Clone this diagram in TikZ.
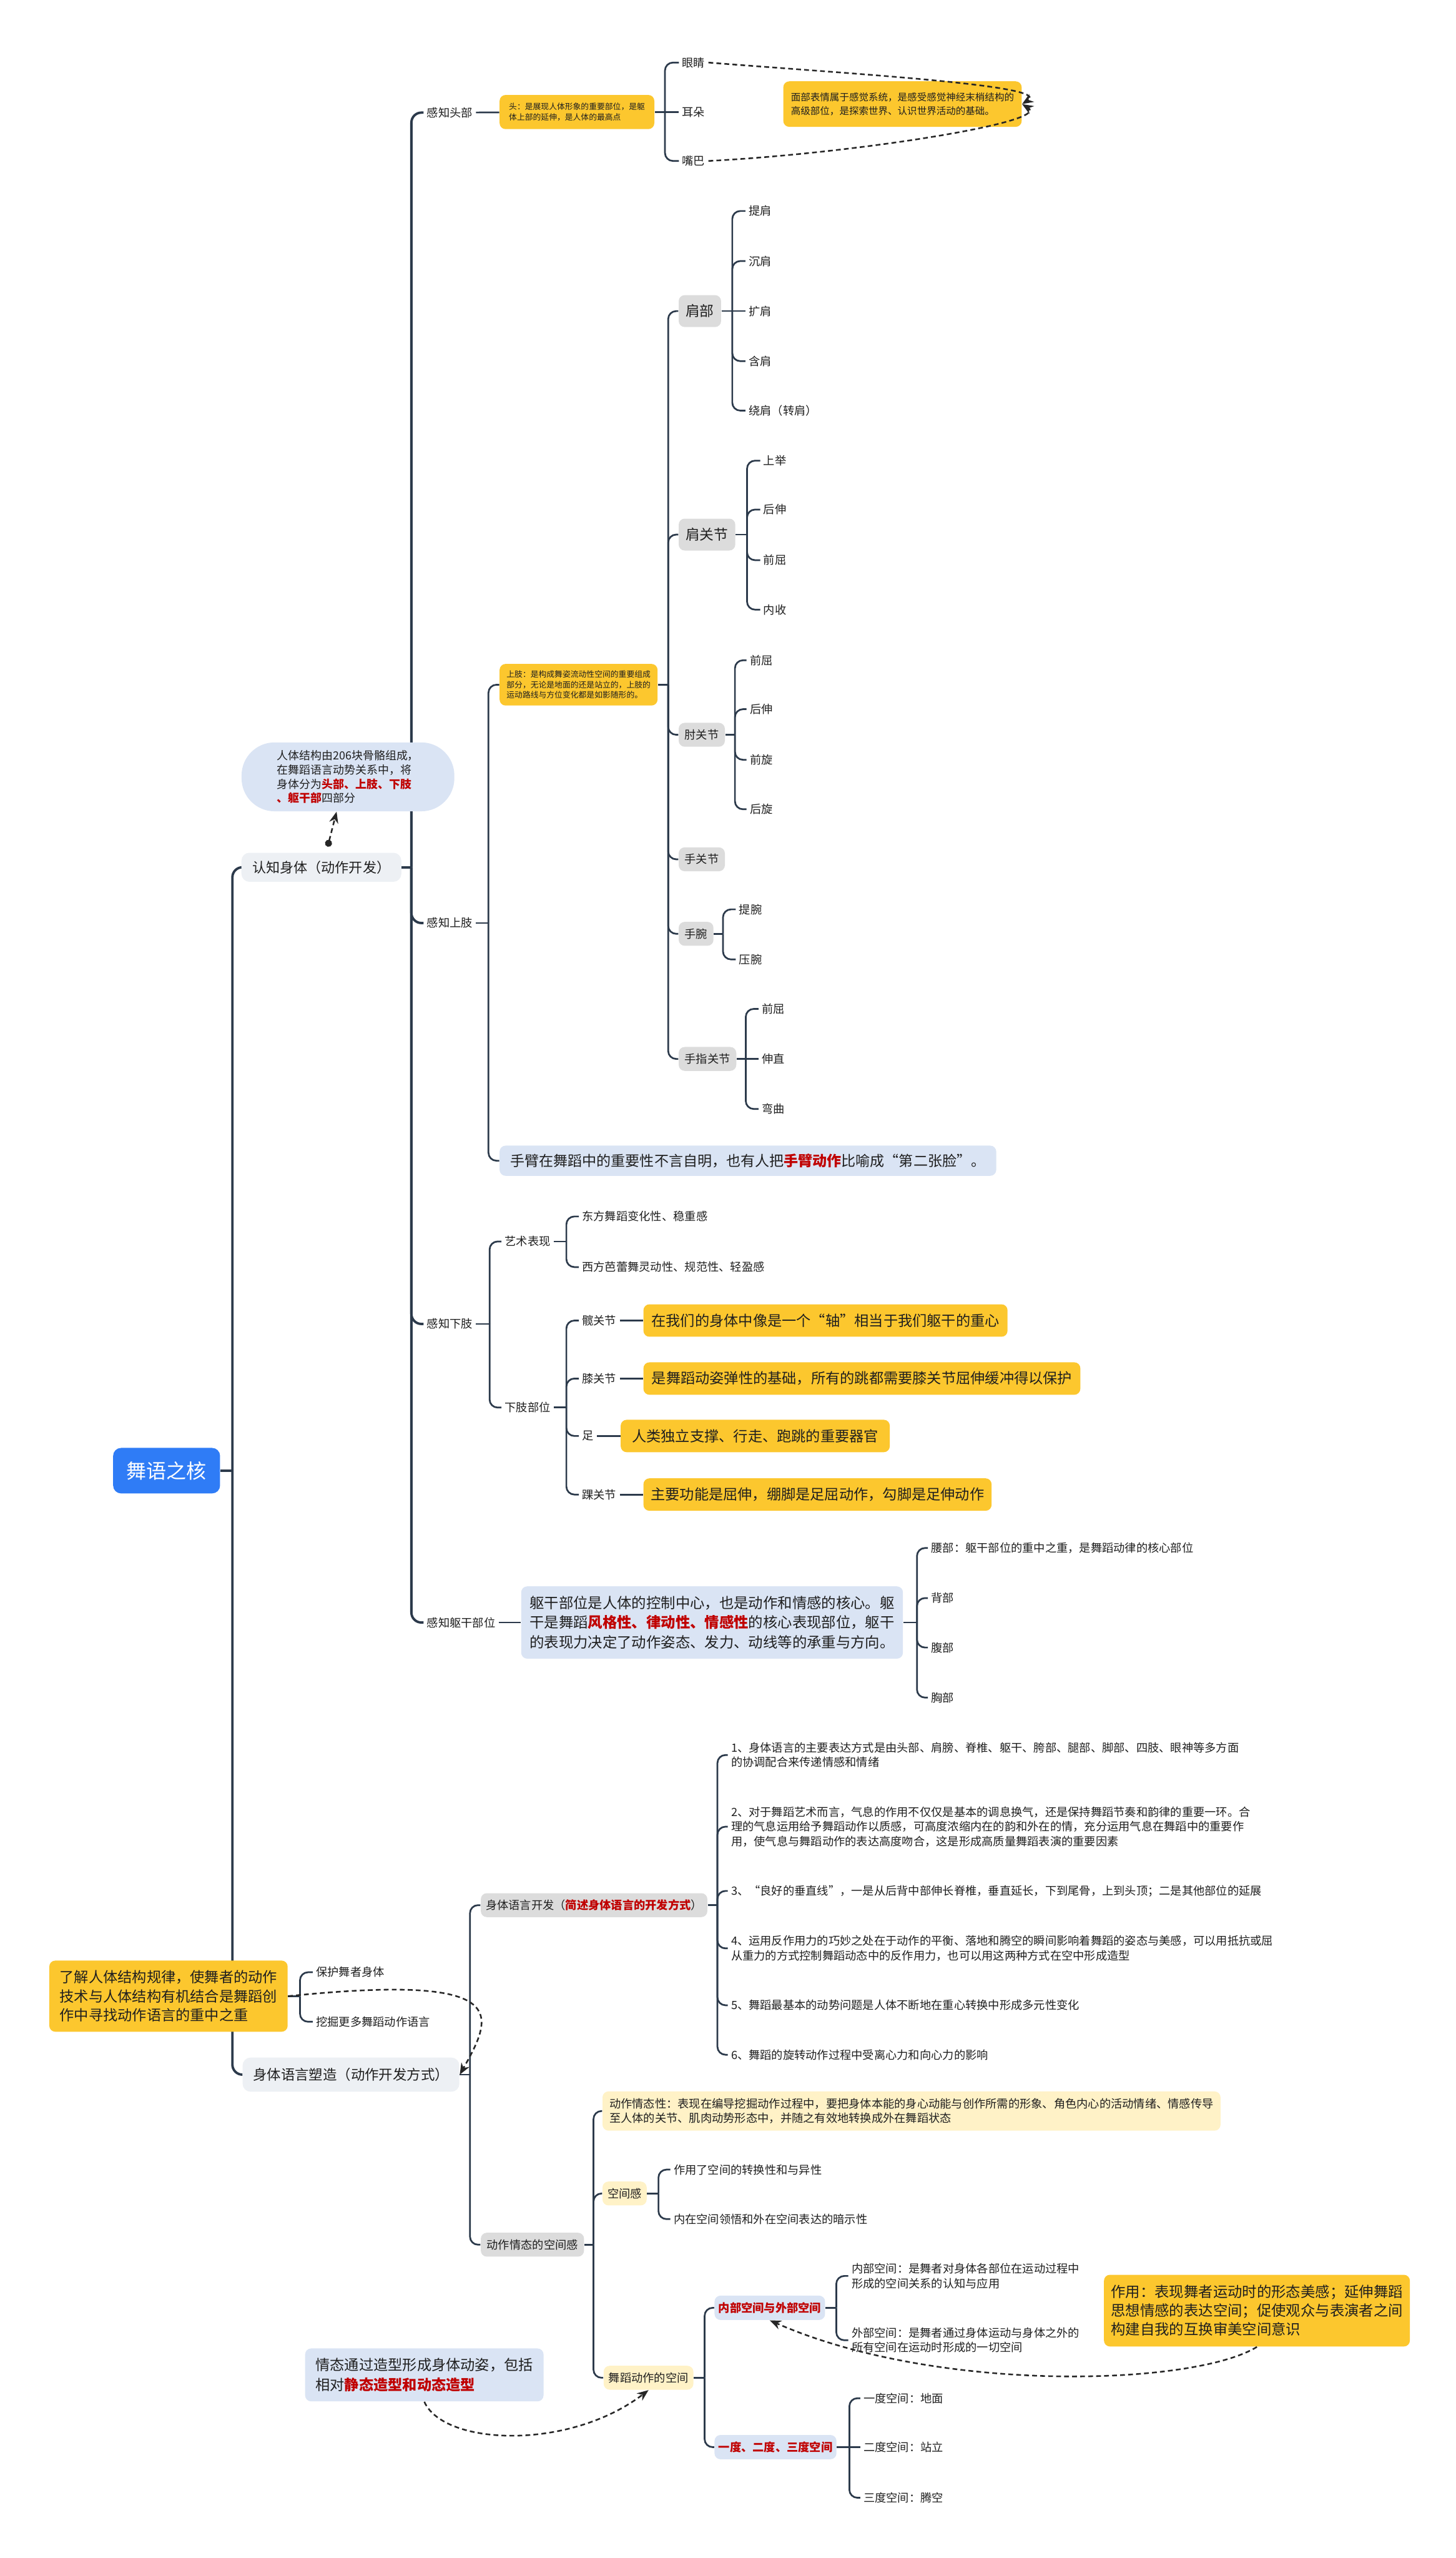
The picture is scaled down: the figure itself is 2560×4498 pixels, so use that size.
\documentclass[tikz,border=0pt]{standalone}
\usepackage{fontspec}
\setmainfont{Noto Sans CJK SC}
\usepackage{tikz}
\usetikzlibrary{arrows.meta, positioning, backgrounds, calc}

\definecolor{edge}{HTML}{2C3A4B}
\definecolor{ink}{HTML}{1F1F1F}
\definecolor{rootblue}{HTML}{2F7CF6}
\definecolor{notey}{HTML}{FCC72E}
\definecolor{noteb}{HTML}{DAE4F4}
\definecolor{notely}{HTML}{FFF2C7}
\definecolor{boxg}{HTML}{DCDCDC}
\definecolor{topicg}{HTML}{EDF0F4}
\definecolor{hot}{HTML}{C00000}
\newcommand{\redb}[1]{\textcolor{hot}{\bfseries #1}}

\begin{document}
\begin{tikzpicture}[
    x=0.01cm, y=-0.01cm,
    txt/.style={anchor=west, inner sep=1.5pt, text=ink, font=\fontsize{5.7pt}{7.3pt}\selectfont},
    gbox/.style={txt, fill=boxg, rounded corners=3pt, inner xsep=3pt, minimum height=0.42cm},
    gboxbig/.style={gbox, font=\fontsize{7.1pt}{9pt}\selectfont, minimum height=0.56cm, inner xsep=3.5pt},
    topic/.style={anchor=west, fill=topicg, rounded corners=4pt, text=ink, inner xsep=3.5pt, font=\fontsize{6.9pt}{8.5pt}\selectfont},
    ynote/.style={anchor=west, fill=notey, rounded corners=3pt, text=ink, align=left, inner xsep=3.5pt},
    bnote/.style={ynote, fill=noteb},
    lynote/.style={ynote, fill=notely, font=\fontsize{5.7pt}{7.3pt}\selectfont},
    rootbox/.style={fill=rootblue, text=white, rounded corners=4pt, minimum width=1.88cm, minimum height=0.8cm, font=\fontsize{10pt}{12pt}\selectfont},
    mainlink/.style={draw=edge, line width=1.2pt, rounded corners=5pt},
    link/.style={draw=edge, line width=0.85pt, rounded corners=4pt},
    rel/.style={draw=black!85, line width=0.8pt, dash pattern=on 2.4pt off 1.6pt, -{Stealth[length=2mm, width=1.6mm]}},
]
\useasboundingbox (0,0) rectangle (2560,4498);

\node[rootbox] (root) at (293,2586) {舞语之核};
\node[topic, minimum width=2.81cm, minimum height=0.51cm] (renzhi) at (424,1525) {认知身体（动作开发）};
\node[topic, minimum width=3.81cm, minimum height=0.6cm, font=\fontsize{7pt}{8.5pt}\selectfont] (suzao) at (426,3648) {身体语言塑造（动作开发方式）};
\node[bnote, anchor=center, rounded corners=0.58cm, minimum width=3.74cm, minimum height=1.21cm, font=\fontsize{5.6pt}{7.1pt}\selectfont] (gutou) at (612,1366) {人体结构由206块骨骼组成，\\在舞蹈语言动势关系中，将\\身体分为\redb{头部、上肢、下肢}\\\redb{、躯干部}四部分};

\node[txt] (toubu) at (745,198) {感知头部};
\node[ynote, minimum width=2.72cm, minimum height=0.6cm, font=\fontsize{4pt}{5.4pt}\selectfont] (touzhu) at (878,197) {头：是展现人体形象的重要部位，是躯\\体上部的延伸，是人体的最高点};
\node[txt] (yanjing) at (1194,110) {眼睛};
\node[txt] (erduo) at (1194,197) {耳朵};
\node[txt] (zuiba) at (1194,283) {嘴巴};
\node[ynote, minimum width=4.19cm, minimum height=0.8cm, font=\fontsize{4.85pt}{6.8pt}\selectfont] (mianbu) at (1377,183) {面部表情属于感觉系统，是感受感觉神经末梢结构的\\高级部位，是探索世界、认识世界活动的基础。};

\node[txt] (shangzhi) at (745,1623) {感知上肢};
\node[ynote, minimum width=2.77cm, minimum height=0.66cm, font=\fontsize{4pt}{5.2pt}\selectfont] (shangzhinote) at (878,1204) {上肢：是构成舞姿流动性空间的重要组成\\部分，无论是地面的还是站立的，上肢的\\运动路线与方位变化都是如影随形的。};
\node[bnote, minimum width=8.73cm, minimum height=0.53cm, font=\fontsize{7.2pt}{9pt}\selectfont] (shoubi) at (878,2041) {手臂在舞蹈中的重要性不言自明，也有人把\redb{手臂动作}比喻成“第二张脸”。};

\node[gboxbig] (jianbu) at (1193,547) {肩部};
\node[gboxbig] (jianguanjie) at (1193,940) {肩关节};
\node[gbox] (zhouguanjie) at (1193,1292) {肘关节};
\node[gbox] (shouguanjie) at (1193,1511) {手关节};
\node[gbox] (shouwan) at (1193,1642) {手腕};
\node[gbox] (shouzhiguanjie) at (1193,1862) {手指关节};

\node[txt] (tijian) at (1311,371) {提肩};
\node[txt] (chenjian) at (1311,459) {沉肩};
\node[txt] (kuojian) at (1311,547) {扩肩};
\node[txt] (hanjian) at (1311,635) {含肩};
\node[txt] (raojian) at (1311,722) {绕肩（转肩）};

\node[txt] (shangju) at (1337,810) {上举};
\node[txt] (houshen) at (1337,896) {后伸};
\node[txt] (qianqu) at (1337,985) {前屈};
\node[txt] (neishou) at (1337,1072) {内收};

\node[txt] (zqianqu) at (1313,1161) {前屈};
\node[txt] (zhoushen) at (1313,1247) {后伸};
\node[txt] (qianxuan) at (1313,1336) {前旋};
\node[txt] (houxuan) at (1313,1423) {后旋};

\node[txt] (tiwan) at (1294,1599) {提腕};
\node[txt] (yawan) at (1294,1687) {压腕};

\node[txt] (sqianqu) at (1334,1774) {前屈};
\node[txt] (shenzhi) at (1334,1862) {伸直};
\node[txt] (wanqu) at (1334,1950) {弯曲};

\node[txt] (xiazhi) at (745,2328) {感知下肢};
\node[txt] (yishu) at (882,2183) {艺术表现};
\node[txt] (buwei) at (882,2475) {下肢部位};
\node[txt] (dongfang) at (1018,2139) {东方舞蹈变化性、稳重感};
\node[txt] (xifang) at (1018,2228) {西方芭蕾舞灵动性、规范性、轻盈感};
\node[txt] (kuan) at (1018,2322) {髋关节};
\node[txt] (xi) at (1018,2424) {膝关节};
\node[txt] (zu) at (1018,2525) {足};
\node[txt] (huai) at (1018,2628) {踝关节};
\node[ynote, minimum width=6.4cm, minimum height=0.57cm, font=\fontsize{7.25pt}{9pt}\selectfont] (kuannote) at (1131,2322) {在我们的身体中像是一个“轴”相当于我们躯干的重心};
\node[ynote, minimum width=7.68cm, minimum height=0.57cm, font=\fontsize{7.25pt}{9pt}\selectfont] (xinote) at (1131,2424) {是舞蹈动姿弹性的基础，所有的跳都需要膝关节屈伸缓冲得以保护};
\node[ynote, minimum width=4.73cm, minimum height=0.57cm, font=\fontsize{7.25pt}{9pt}\selectfont] (zunote) at (1091,2525) {人类独立支撑、行走、跑跳的重要器官};
\node[ynote, minimum width=6.12cm, minimum height=0.57cm, font=\fontsize{7.25pt}{9pt}\selectfont] (huainote) at (1131,2628) {主要功能是屈伸，绷脚是足屈动作，勾脚是足伸动作};

\node[txt] (qugan) at (745,2853) {感知躯干部位};
\node[bnote, minimum width=6.71cm, minimum height=1.27cm, font=\fontsize{7.3pt}{9.7pt}\selectfont] (qugannote) at (916,2853) {躯干部位是人体的控制中心，也是动作和情感的核心。躯\\干是舞蹈\redb{风格性、律动性、情感性}的核心表现部位，躯干\\的表现力决定了动作姿态、发力、动线等的承重与方向。};
\node[txt] (yaobu) at (1632,2722) {腰部：躯干部位的重中之重，是舞蹈动律的核心部位};
\node[txt] (beibu) at (1632,2810) {背部};
\node[txt] (fubu) at (1632,2897) {腹部};
\node[txt] (xiongbu) at (1632,2985) {胸部};

\node[gbox, inner xsep=2.5pt] (kaifa) at (845,3350) {身体语言开发（\redb{简述身体语言的开发方式}）};
\node[gbox] (qingtai) at (845,3947) {动作情态的空间感};
\node[txt, align=left] (fa1) at (1280,3086) {1、身体语言的主要表达方式是由头部、肩膀、脊椎、躯干、胯部、腿部、脚部、四肢、眼神等多方面\\的协调配合来传递情感和情绪};
\node[txt, align=left] (fa2) at (1280,3212) {2、对于舞蹈艺术而言，气息的作用不仅仅是基本的调息换气，还是保持舞蹈节奏和韵律的重要一环。合\\理的气息运用给予舞蹈动作以质感，可高度浓缩内在的韵和外在的情，充分运用气息在舞蹈中的重要作\\用，使气息与舞蹈动作的表达高度吻合，这是形成高质量舞蹈表演的重要因素};
\node[txt] (fa3) at (1280,3325) {3、“良好的垂直线”，一是从后背中部伸长脊椎，垂直延长，下到尾骨，上到头顶；二是其他部位的延展};
\node[txt, align=left] (fa4) at (1280,3426) {4、运用反作用力的巧妙之处在于动作的平衡、落地和腾空的瞬间影响着舞蹈的姿态与美感，可以用抵抗或屈\\从重力的方式控制舞蹈动态中的反作用力，也可以用这两种方式在空中形成造型};
\node[txt] (fa5) at (1280,3526) {5、舞蹈最基本的动势问题是人体不断地在重心转换中形成多元性变化};
\node[txt] (fa6) at (1280,3613) {6、舞蹈的旋转动作过程中受离心力和向心力的影响};

\node[lynote, minimum width=10.67cm, minimum height=0.69cm] (qingtaixing) at (1059,3712) {动作情态性：表现在编导挖掘动作过程中，要把身体本能的身心动能与创作所需的形象、角色内心的活动情绪、情感传导\\至人体的关节、肌肉动势形态中，并随之有效地转换成外在舞蹈状态};
\node[lynote, minimum height=0.41cm, inner xsep=2.5pt] (kongjiangan) at (1059,3857) {空间感};
\node[txt] (zhuanhuan) at (1179,3815) {作用了空间的转换性和与异性};
\node[txt] (anshi) at (1179,3902) {内在空间领悟和外在空间表达的暗示性};
\node[lynote, minimum height=0.42cm, inner xsep=2.5pt] (wudao) at (1061,4181) {舞蹈动作的空间};
\node[bnote, minimum height=0.42cm, inner xsep=2pt, font=\fontsize{5.7pt}{7.3pt}\selectfont] (neiwai) at (1256,4058) {\redb{内部空间与外部空间}};
\node[bnote, minimum height=0.42cm, inner xsep=2pt, font=\fontsize{5.7pt}{7.3pt}\selectfont] (sandu) at (1256,4303) {\redb{一度、二度、三度空间}};
\node[txt, align=left] (neibu) at (1492,4002) {内部空间：是舞者对身体各部位在运动过程中\\形成的空间关系的认知与应用};
\node[txt, align=left] (waibu) at (1492,4115) {外部空间：是舞者通过身体运动与身体之外的\\所有空间在运动时形成的一切空间};
\node[txt] (yidu) at (1513,4217) {一度空间：地面};
\node[txt] (erdu) at (1513,4303) {二度空间：站立};
\node[txt] (sandu3) at (1513,4392) {三度空间：腾空};
\node[ynote, minimum width=5.33cm, minimum height=1.26cm, font=\fontsize{7.3pt}{9.4pt}\selectfont] (zuoyong) at (1941,4063) {作用：表现舞者运动时的形态美感；延伸舞蹈\\思想情感的表达空间；促使观众与表演者之间\\构建自我的互换审美空间意识};
\node[bnote, minimum width=4.19cm, minimum height=0.93cm, font=\fontsize{7.25pt}{9.9pt}\selectfont] (xingtai) at (536,4176) {情态通过造型形成身体动姿，包括\\相对\redb{静态造型和动态造型}};

\begin{scope}[on background layer]
\fill[white] (0,0) rectangle (2560,4498);
\draw[mainlink] (root.east) -- ++(21,0) coordinate (r0);
\draw[mainlink] (r0) |- (renzhi.west);
\draw[mainlink] (r0) |- (suzao.west);

\draw[mainlink] (renzhi.east) -- ++(17,0) coordinate (k0);
\draw[mainlink] (k0) |- (toubu.west);
\draw[mainlink] (k0) |- (shangzhi.west);
\draw[mainlink] (k0) |- (xiazhi.west);
\draw[mainlink] (k0) |- (qugan.west);

\draw[link] (toubu) -- (touzhu);
\draw[link] (touzhu.east) -- ++(18,0) coordinate (t0);
\draw[link] (t0) |- (yanjing.west);
\draw[link] (t0) -- (erduo.west);
\draw[link] (t0) |- (zuiba.west);

\draw[link] (shangzhi.east) -- ++(22,0) coordinate (s0);
\draw[link] (s0) |- (shangzhinote.west);
\draw[link] (s0) |- (shoubi.west);
\draw[link] (shangzhinote.east) -- ++(18,0) coordinate (s1);
\draw[link] (s1) |- (jianbu.west);
\draw[link] (s1) |- (jianguanjie.west);
\draw[link] (s1) |- (zhouguanjie.west);
\draw[link] (s1) |- (shouguanjie.west);
\draw[link] (s1) |- (shouwan.west);
\draw[link] (s1) |- (shouzhiguanjie.west);

\draw[link] (jianbu.east) -- ++(19,0) coordinate (s2);
\draw[link] (s2) |- (tijian.west);
\draw[link] (s2) |- (chenjian.west);
\draw[link] (s2) -- (kuojian.west);
\draw[link] (s2) |- (hanjian.west);
\draw[link] (s2) |- (raojian.west);

\draw[link] (jianguanjie.east) -- ++(20,0) coordinate (s3);
\draw[link] (s3) |- (shangju.west);
\draw[link] (s3) |- (houshen.west);
\draw[link] (s3) |- (qianqu.west);
\draw[link] (s3) |- (neishou.west);

\draw[link] (zhouguanjie.east) -- ++(17,0) coordinate (s4);
\draw[link] (s4) |- (zqianqu.west);
\draw[link] (s4) |- (zhoushen.west);
\draw[link] (s4) |- (qianxuan.west);
\draw[link] (s4) |- (houxuan.west);

\draw[link] (shouwan.east) -- ++(16,0) coordinate (s5);
\draw[link] (s5) |- (tiwan.west);
\draw[link] (s5) |- (yawan.west);

\draw[link] (shouzhiguanjie.east) -- ++(16,0) coordinate (s6);
\draw[link] (s6) |- (sqianqu.west);
\draw[link] (s6) -- (shenzhi.west);
\draw[link] (s6) |- (wanqu.west);

\draw[link] (xiazhi.east) -- ++(24,0) coordinate (x0);
\draw[link] (x0) |- (yishu.west);
\draw[link] (x0) |- (buwei.west);
\draw[link] (yishu.east) -- ++(22,0) coordinate (x1);
\draw[link] (x1) |- (dongfang.west);
\draw[link] (x1) |- (xifang.west);
\draw[link] (buwei.east) -- ++(22,0) coordinate (x2);
\draw[link] (x2) |- (kuan.west);
\draw[link] (x2) |- (xi.west);
\draw[link] (x2) |- (zu.west);
\draw[link] (x2) |- (huai.west);
\draw[link] (kuan) -- (kuannote);
\draw[link] (xi) -- (xinote);
\draw[link] (zu) -- (zunote);
\draw[link] (huai) -- (huainote);

\draw[link] (qugan) -- (qugannote);
\draw[link] (qugannote.east) -- ++(24,0) coordinate (q0);
\draw[link] (q0) |- (yaobu.west);
\draw[link] (q0) |- (beibu.west);
\draw[link] (q0) |- (fubu.west);
\draw[link] (q0) |- (xiongbu.west);

\draw[link] (suzao.east) -- ++(18,0) coordinate (y0);
\draw[link] (y0) |- (kaifa.west);
\draw[link] (y0) |- (qingtai.west);
\draw[link] (kaifa.east) -- ++(17,0) coordinate (y1);
\draw[link] (y1) |- (fa1.west);
\draw[link] (y1) |- (fa2.west);
\draw[link] (y1) |- (fa3.west);
\draw[link] (y1) |- (fa4.west);
\draw[link] (y1) |- (fa5.west);
\draw[link] (y1) |- (fa6.west);

\draw[link] (qingtai.east) -- ++(16,0) coordinate (y2);
\draw[link] (y2) |- (qingtaixing.west);
\draw[link] (y2) |- (kongjiangan.west);
\draw[link] (y2) |- (wudao.west);
\draw[link] (kongjiangan.east) -- ++(20,0) coordinate (y3);
\draw[link] (y3) |- (zhuanhuan.west);
\draw[link] (y3) |- (anshi.west);
\draw[link] (wudao.east) -- ++(19,0) coordinate (y4);
\draw[link] (y4) |- (neiwai.west);
\draw[link] (y4) |- (sandu.west);
\draw[link] (neiwai.east) -- ++(19,0) coordinate (y5);
\draw[link] (y5) |- (neibu.west);
\draw[link] (y5) |- (waibu.west);
\draw[link] (sandu.east) -- ++(22,0) coordinate (y6);
\draw[link] (y6) |- (yidu.west);
\draw[link] (y6) -- (erdu.west);
\draw[link] (y6) |- (sandu3.west);
\end{scope}

\node[ynote, minimum width=4.19cm, minimum height=1.25cm, font=\fontsize{7.25pt}{9.5pt}\selectfont] (liaojie) at (86,3510) {了解人体结构规律，使舞者的动作\\技术与人体结构有机结合是舞蹈创\\作中寻找动作语言的重中之重};
\node[txt] (baohu) at (550,3468) {保护舞者身体};
\node[txt] (wajue) at (550,3555) {挖掘更多舞蹈动作语言};
\draw[link] (liaojie.east) -- ++(21,0) coordinate (l0);
\draw[link] (l0) |- (baohu.west);
\draw[link] (l0) |- (wajue.west);

\draw[rel] (yanjing.east) .. controls (1500,130) and (1850,150) .. (mianbu.east);
\draw[rel] (zuiba.east) .. controls (1500,270) and (1850,215) .. (mianbu.east);
\draw[rel, {Circle[length=3.5pt]}-{Stealth[length=2mm, width=1.6mm]}] ([xshift=0.11cm, yshift=0.1cm]renzhi.north) -- ([xshift=-0.2cm]gutou.south);
\draw[rel] (liaojie.east) .. controls (900,3470) and (870,3540) .. (suzao.east);
\draw[rel] (zuoyong.south) .. controls (2100,4195) and (1650,4210) .. (neiwai.south);
\draw[rel] (xingtai.south) .. controls (780,4300) and (1000,4310) .. (wudao.south);

\end{tikzpicture}
\end{document}
